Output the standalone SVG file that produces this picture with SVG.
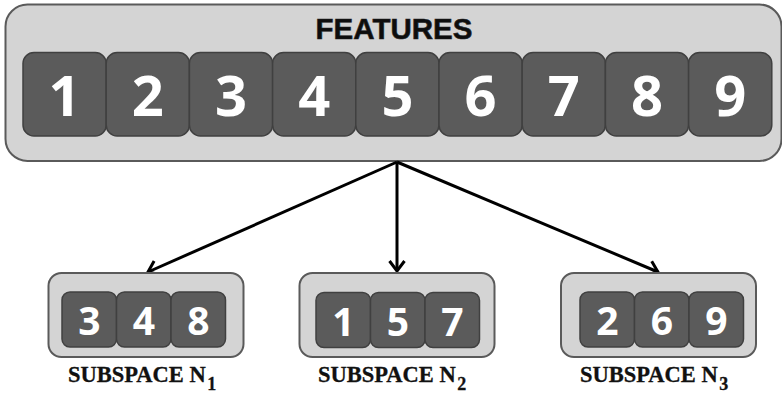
<svg xmlns="http://www.w3.org/2000/svg" width="782" height="395" viewBox="0 0 782 395">
  <style>
    .panel { fill: #d4d4d4; stroke: #5a5a5a; stroke-width: 2; }
    .cell { fill: #5b5b5b; stroke: #404040; stroke-width: 1.5; }
    .num { fill: #ffffff; font-family: "Open Sans", "DejaVu Sans", sans-serif; font-weight: 700; text-anchor: middle; }
    .big { font-size: 56px; }
    .small { font-size: 39px; }
    .title { fill: #0d0d0d; stroke: #222222; stroke-width: 0.6; font-family: "Liberation Sans", Arial, sans-serif; font-weight: 700; font-size: 29.5px; text-anchor: middle; }
    .label { fill: #111111; stroke: #111111; stroke-width: 0.3; font-family: "Liberation Serif", "Times New Roman", serif; font-weight: 700; font-size: 22.5px; }
    .sub { font-size: 18px; }
    .link { fill: none; stroke: #000000; stroke-width: 3; }
  </style>
  <defs>
    <marker id="chevron" markerUnits="userSpaceOnUse" markerWidth="24" markerHeight="24" viewBox="-14 -12 16 24" refX="0" refY="0" orient="auto">
      <path d="M -10 -7.5 L 0 0 L -10 7.5" fill="none" stroke="#000000" stroke-width="3" stroke-linejoin="miter"/>
    </marker>
  </defs>

  <!-- feature set -->
  <g id="features">
    <rect class="panel" x="5.5" y="4.5" width="776" height="156.5" rx="22"/>
    <text class="title" x="394" y="38.5">FEATURES</text>
    <g id="f1"><rect class="cell" x="23" y="52.5" width="83.2" height="83.5" rx="11"/><text class="num big" x="64.6" y="116">1</text></g>
    <g id="f2"><rect class="cell" x="106.2" y="52.5" width="83.2" height="83.5" rx="11"/><text class="num big" x="147.8" y="116">2</text></g>
    <g id="f3"><rect class="cell" x="189.4" y="52.5" width="83.2" height="83.5" rx="11"/><text class="num big" x="231" y="116">3</text></g>
    <g id="f4"><rect class="cell" x="272.6" y="52.5" width="83.2" height="83.5" rx="11"/><text class="num big" x="314.2" y="116">4</text></g>
    <g id="f5"><rect class="cell" x="355.8" y="52.5" width="83.2" height="83.5" rx="11"/><text class="num big" x="397.4" y="116">5</text></g>
    <g id="f6"><rect class="cell" x="439" y="52.5" width="83.2" height="83.5" rx="11"/><text class="num big" x="480.6" y="116">6</text></g>
    <g id="f7"><rect class="cell" x="522.2" y="52.5" width="83.2" height="83.5" rx="11"/><text class="num big" x="563.8" y="116">7</text></g>
    <g id="f8"><rect class="cell" x="605.4" y="52.5" width="83.2" height="83.5" rx="11"/><text class="num big" x="647" y="116">8</text></g>
    <g id="f9"><rect class="cell" x="688.6" y="52.5" width="83.2" height="83.5" rx="11"/><text class="num big" x="730.2" y="116">9</text></g>
  </g>

  <!-- connectors -->
  <g id="connectors">
    <line class="link" x1="397" y1="162" x2="148" y2="272" marker-end="url(#chevron)"/>
    <line class="link" x1="397" y1="162" x2="397" y2="271" marker-end="url(#chevron)"/>
    <line class="link" x1="397" y1="162" x2="658" y2="272" marker-end="url(#chevron)"/>
  </g>

  <!-- subspace 1 -->
  <g id="subspace1">
    <rect class="panel" x="48.5" y="273" width="195" height="84" rx="13"/>
    <rect class="cell" x="62" y="292" width="54.5" height="55" rx="8"/><text class="num small" x="89.3" y="335">3</text>
    <rect class="cell" x="116.5" y="292" width="54.5" height="55" rx="8"/><text class="num small" x="143.8" y="335">4</text>
    <rect class="cell" x="171" y="292" width="54.5" height="55" rx="8"/><text class="num small" x="198.3" y="335">8</text>
    <text class="label" x="68" y="382">SUBSPACE N<tspan class="sub" dx="1.5" y="389.5">1</tspan></text>
  </g>

  <!-- subspace 2 -->
  <g id="subspace2">
    <rect class="panel" x="299.5" y="273" width="195" height="84" rx="13"/>
    <rect class="cell" x="316" y="292.5" width="54.5" height="55" rx="8"/><text class="num small" x="343.3" y="335.5">1</text>
    <rect class="cell" x="370.5" y="292.5" width="54.5" height="55" rx="8"/><text class="num small" x="397.8" y="335.5">5</text>
    <rect class="cell" x="425" y="292.5" width="54.5" height="55" rx="8"/><text class="num small" x="452.3" y="335.5">7</text>
    <text class="label" x="318" y="382">SUBSPACE N<tspan class="sub" dx="1.5" y="389.5">2</tspan></text>
  </g>

  <!-- subspace 3 -->
  <g id="subspace3">
    <rect class="panel" x="561" y="273" width="195" height="84" rx="13"/>
    <rect class="cell" x="580" y="292" width="54.5" height="55" rx="8"/><text class="num small" x="607.3" y="335">2</text>
    <rect class="cell" x="634.5" y="292" width="54.5" height="55" rx="8"/><text class="num small" x="661.8" y="335">6</text>
    <rect class="cell" x="689" y="292" width="54.5" height="55" rx="8"/><text class="num small" x="716.3" y="335">9</text>
    <text class="label" x="580" y="382">SUBSPACE N<tspan class="sub" dx="1.5" y="389.5">3</tspan></text>
  </g>
</svg>
